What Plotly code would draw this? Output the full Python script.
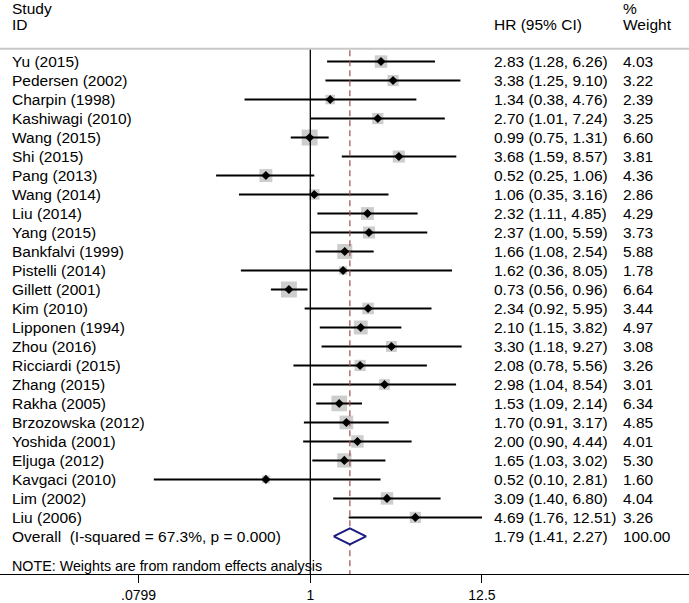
import plotly.graph_objects as go

studies = ["Yu (2015)", "Pedersen (2002)", "Charpin (1998)", "Kashiwagi (2010)", "Wang (2015)",
           "Shi (2015)", "Pang (2013)", "Wang (2014)", "Liu (2014)", "Yang (2015)",
           "Bankfalvi (1999)", "Pistelli (2014)", "Gillett (2001)", "Kim (2010)", "Lipponen (1994)",
           "Zhou (2016)", "Ricciardi (2015)", "Zhang (2015)", "Rakha (2005)", "Brzozowska (2012)",
           "Yoshida (2001)", "Eljuga (2012)", "Kavgaci (2010)", "Lim (2002)", "Liu (2006)"]
hr = [2.83, 3.38, 1.34, 2.70, 0.99, 3.68, 0.52, 1.06, 2.32, 2.37, 1.66, 1.62, 0.73, 2.34, 2.10,
      3.30, 2.08, 2.98, 1.53, 1.70, 2.00, 1.65, 0.52, 3.09, 4.69]
ci_low = [1.28, 1.25, 0.38, 1.01, 0.75, 1.59, 0.25, 0.35, 1.11, 1.00, 1.08, 0.36, 0.56, 0.92, 1.15,
          1.18, 0.78, 1.04, 1.09, 0.91, 0.90, 1.03, 0.10, 1.40, 1.76]
ci_high = [6.26, 9.10, 4.76, 7.24, 1.31, 8.57, 1.06, 3.16, 4.85, 5.59, 2.54, 8.05, 0.96, 5.95, 3.82,
           9.27, 5.56, 8.54, 2.14, 3.17, 4.44, 3.02, 2.81, 6.80, 12.51]
weights = [4.03, 3.22, 2.39, 3.25, 6.60, 3.81, 4.36, 2.86, 4.29, 3.73, 5.88, 1.78, 6.64, 3.44, 4.97,
           3.08, 3.26, 3.01, 6.34, 4.85, 4.01, 5.30, 1.60, 4.04, 3.26]

overall_label = "Overall\u00a0 (I-squared = 67.3%, p = 0.000)"
overall_hr = 1.79
overall_low = 1.41
overall_high = 2.27
overall_weight = 100.00

tick_vals = [0.0799, 1, 12.5]
tick_text = [".0799", "1", "12.5"]
note = "NOTE: Weights are from random effects analysis"

FONT = "Liberation Sans, Arial, sans-serif"
FS = 15.5
n = len(studies)
rows = list(range(n))
overall_row = n
Y_TOP, Y_BOT = -3.242, 26.98

fig = go.Figure()

# weight boxes
fig.add_trace(go.Scatter(
    x=hr, y=rows, mode="markers",
    marker=dict(symbol="square", size=[6.2 * w ** 0.5 for w in weights], color="#b8b8b8",
                line=dict(width=0)),
    hoverinfo="skip", showlegend=False))

# CI lines
cx, cy = [], []
for i in rows:
    cx += [ci_low[i], ci_high[i], None]
    cy += [i, i, None]
fig.add_trace(go.Scatter(x=cx, y=cy, mode="lines", line=dict(color="black", width=2),
                         hoverinfo="skip", showlegend=False))

# null line at 1
fig.add_trace(go.Scatter(x=[1, 1], y=[-0.68, Y_BOT], mode="lines",
                         line=dict(color="black", width=1.3), hoverinfo="skip", showlegend=False))
# overall dashed line
fig.add_trace(go.Scatter(x=[overall_hr, overall_hr], y=[-0.6, Y_BOT], mode="lines",
                         line=dict(color="#9b5050", width=1.2, dash="6px,4px"),
                         hoverinfo="skip", showlegend=False))

# point estimates
fig.add_trace(go.Scatter(
    x=hr, y=rows, mode="markers",
    marker=dict(symbol="diamond", size=7, color="black"),
    hoverinfo="skip", showlegend=False))

# overall diamond
h = 0.42
fig.add_trace(go.Scatter(
    x=[overall_low, overall_hr, overall_high, overall_hr, overall_low],
    y=[overall_row, overall_row - h, overall_row, overall_row + h, overall_row],
    mode="lines", fill="toself", fillcolor="white",
    line=dict(color="#1c1c80", width=2), hoverinfo="skip", showlegend=False))

ann = []
def txt(x, y, s, size=FS):
    ann.append(dict(x=x / 689, y=y, xref="paper", yref="y", text=s, showarrow=False,
                    xanchor="left", yanchor="middle", font=dict(family=FONT, size=size, color="black")))

txt(10, -2.80, "Study")
txt(10, -1.935, "ID")
txt(492, -1.935, "HR (95% CI)")
txt(621, -2.80, "%")
txt(621, -1.935, "Weight")
for i in rows:
    txt(10, i, studies[i])
    txt(492, i, f"{hr[i]:.2f} ({ci_low[i]:.2f}, {ci_high[i]:.2f})")
    txt(621, i, f"{weights[i]:.2f}")
txt(10, overall_row, overall_label)
txt(492, overall_row, f"{overall_hr:.2f} ({overall_low:.2f}, {overall_high:.2f})")
txt(621, overall_row, f"{overall_weight:.2f}")
txt(10, 26.56, note, size=14.3)

fig.update_layout(
    width=689, height=603,
    margin=dict(l=0, r=0, t=0, b=25),
    paper_bgcolor="white", plot_bgcolor="white",
    annotations=ann,
    shapes=[dict(type="line", xref="paper", yref="y", x0=0, x1=1, y0=-0.68, y1=-0.68,
                 line=dict(color="#c8c8c8", width=2))],
    hovermode=False,
    xaxis=dict(type="log", range=[-1.983, 2.420], showgrid=False, zeroline=False,
               showline=True, linecolor="black", linewidth=1,
               ticks="outside", ticklen=8, tickcolor="black", tickwidth=1,
               tickvals=tick_vals, ticktext=tick_text,
               tickfont=dict(family=FONT, size=14, color="black")),
    yaxis=dict(range=[Y_BOT, Y_TOP], visible=False, showgrid=False, zeroline=False),
)

fig.write_html("out.html", config={"displayModeBar": False},
               post_script="document.body.style.margin='0';document.body.style.overflow='hidden';")
